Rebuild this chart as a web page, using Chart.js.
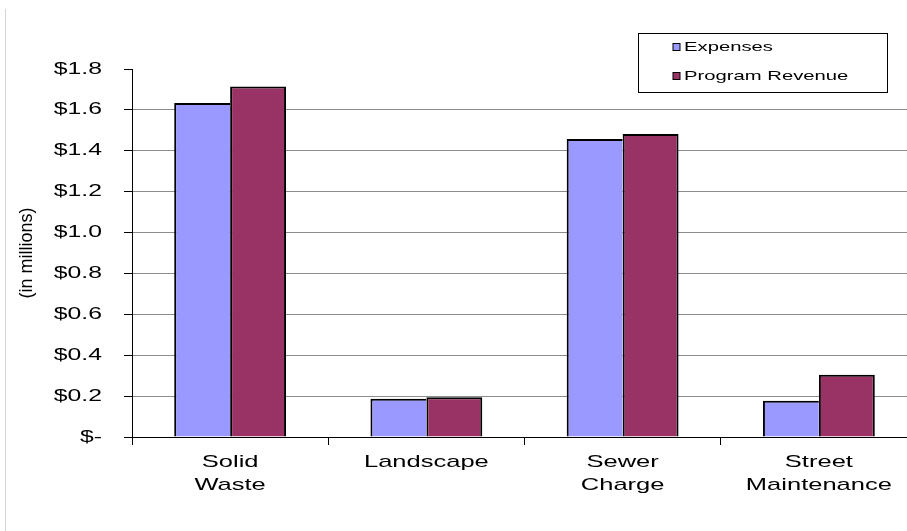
<!DOCTYPE html>
<html lang="en">
<head>
    <meta charset="UTF-8">
    <title>Expenses and Program Revenue</title>
    <script src="https://cdn.jsdelivr.net/npm/chart.js"></script>
    <style>
        html, body {
            margin: 0;
            padding: 0;
            background: #fff;
            overflow: hidden;
        }
        .frame {
            position: absolute;
            left: 5px;
            top: 9px;
            bottom: 0;
            width: 1px;
            background: #d6d6d6;
        }
        .chart-box {
            position: relative;
            width: 930px;
            height: 531px;
        }
    </style>
</head>
<body>
    <div class="frame"></div>
    <div class="chart-box">
        <canvas id="programChart"></canvas>
    </div>

    <script>
        const categories = [['Solid', 'Waste'], 'Landscape', ['Sewer', 'Charge'], ['Street', 'Maintenance']];
        const expenses = [1.634, 0.187, 1.458, 0.177];
        const programRevenue = [1.715, 0.195, 1.482, 0.305];
        const yTickLabels = ['$-', '$0.2', '$0.4', '$0.6', '$0.8', '$1.0', '$1.2', '$1.4', '$1.6', '$1.8'];

        const FONT = "'Liberation Sans', Arial, sans-serif";
        const TEXT_STRETCH = 1.5;

        const canvas = document.getElementById('programChart');
        const ctx = canvas.getContext('2d');

        // horizontal text is drawn widened; rotated text is left as is
        const baseFillText = ctx.fillText;
        ctx.fillText = function (text, x, y, maxWidth) {
            if (this.getTransform().b !== 0) {
                return baseFillText.call(this, text, x, y, maxWidth);
            }
            this.save();
            this.translate(x, y);
            this.scale(TEXT_STRETCH, 1);
            if (maxWidth === undefined) {
                baseFillText.call(this, text, 0, 0);
            } else {
                baseFillText.call(this, text, 0, 0, maxWidth / TEXT_STRETCH);
            }
            this.restore();
        };

        // boxed legend in the top right corner
        const boxLegend = {
            id: 'boxLegend',
            afterDraw(chart) {
                const c = chart.ctx;
                c.save();
                c.strokeStyle = '#000';
                c.lineWidth = 1;
                c.strokeRect(638.5, 33.5, 249, 59);
                c.font = '13.5px ' + FONT;
                c.textBaseline = 'middle';
                c.textAlign = 'left';
                chart.data.datasets.forEach((ds, i) => {
                    const y = 47 + i * 29;
                    c.fillStyle = ds.backgroundColor;
                    c.fillRect(673, y - 3.5, 7, 7);
                    c.strokeRect(673, y - 3.5, 7, 7);
                    c.fillStyle = '#000';
                    c.fillText(ds.label, 684, y + 0.5);
                });
                c.restore();
            }
        };

        Chart.defaults.font.family = FONT;
        Chart.defaults.color = '#000';

        new Chart(ctx, {
            type: 'bar',
            data: {
                labels: categories,
                datasets: [
                    {
                        label: 'Expenses',
                        data: expenses,
                        backgroundColor: '#9999ff',
                        borderColor: '#000',
                        borderWidth: { left: 2, top: 2, right: 0, bottom: 0 },
                        categoryPercentage: 0.57,
                        barPercentage: 1.0
                    },
                    {
                        label: 'Program Revenue',
                        data: programRevenue,
                        backgroundColor: '#993366',
                        borderColor: '#000',
                        borderWidth: { left: 2, top: 2, right: 2, bottom: 0 },
                        categoryPercentage: 0.57,
                        barPercentage: 1.0
                    }
                ]
            },
            options: {
                responsive: true,
                maintainAspectRatio: false,
                animation: false,
                layout: {
                    padding: { top: 69, right: 13, bottom: 0, left: 0 }
                },
                plugins: {
                    legend: { display: false },
                    tooltip: { enabled: false }
                },
                scales: {
                    x: {
                        afterFit(scale) { scale.height = 94; },
                        grid: {
                            offset: true,
                            drawOnChartArea: false,
                            tickLength: 8,
                            tickColor: '#000'
                        },
                        border: { color: '#000', width: 1 },
                        ticks: {
                            maxRotation: 0,
                            autoSkip: false,
                            padding: 5,
                            font: { size: 17, lineHeight: 1.4 }
                        }
                    },
                    y: {
                        min: 0,
                        max: 1.8,
                        afterFit(scale) { scale.width = 132; },
                        grid: {
                            color: (c) => (c.tick && c.tick.value >= 1.79 ? 'rgba(0,0,0,0)' : '#8c8c8c'),
                            tickLength: 8,
                            tickColor: '#000'
                        },
                        border: { color: '#000', width: 1 },
                        ticks: {
                            stepSize: 0.2,
                            padding: 22,
                            font: { size: 16.5 },
                            callback: (value, index) => yTickLabels[index]
                        },
                        title: {
                            display: true,
                            text: '(in millions)',
                            font: { size: 18 },
                            padding: { top: 16, bottom: 0 }
                        }
                    }
                }
            },
            plugins: [boxLegend]
        });
    </script>
</body>
</html>
